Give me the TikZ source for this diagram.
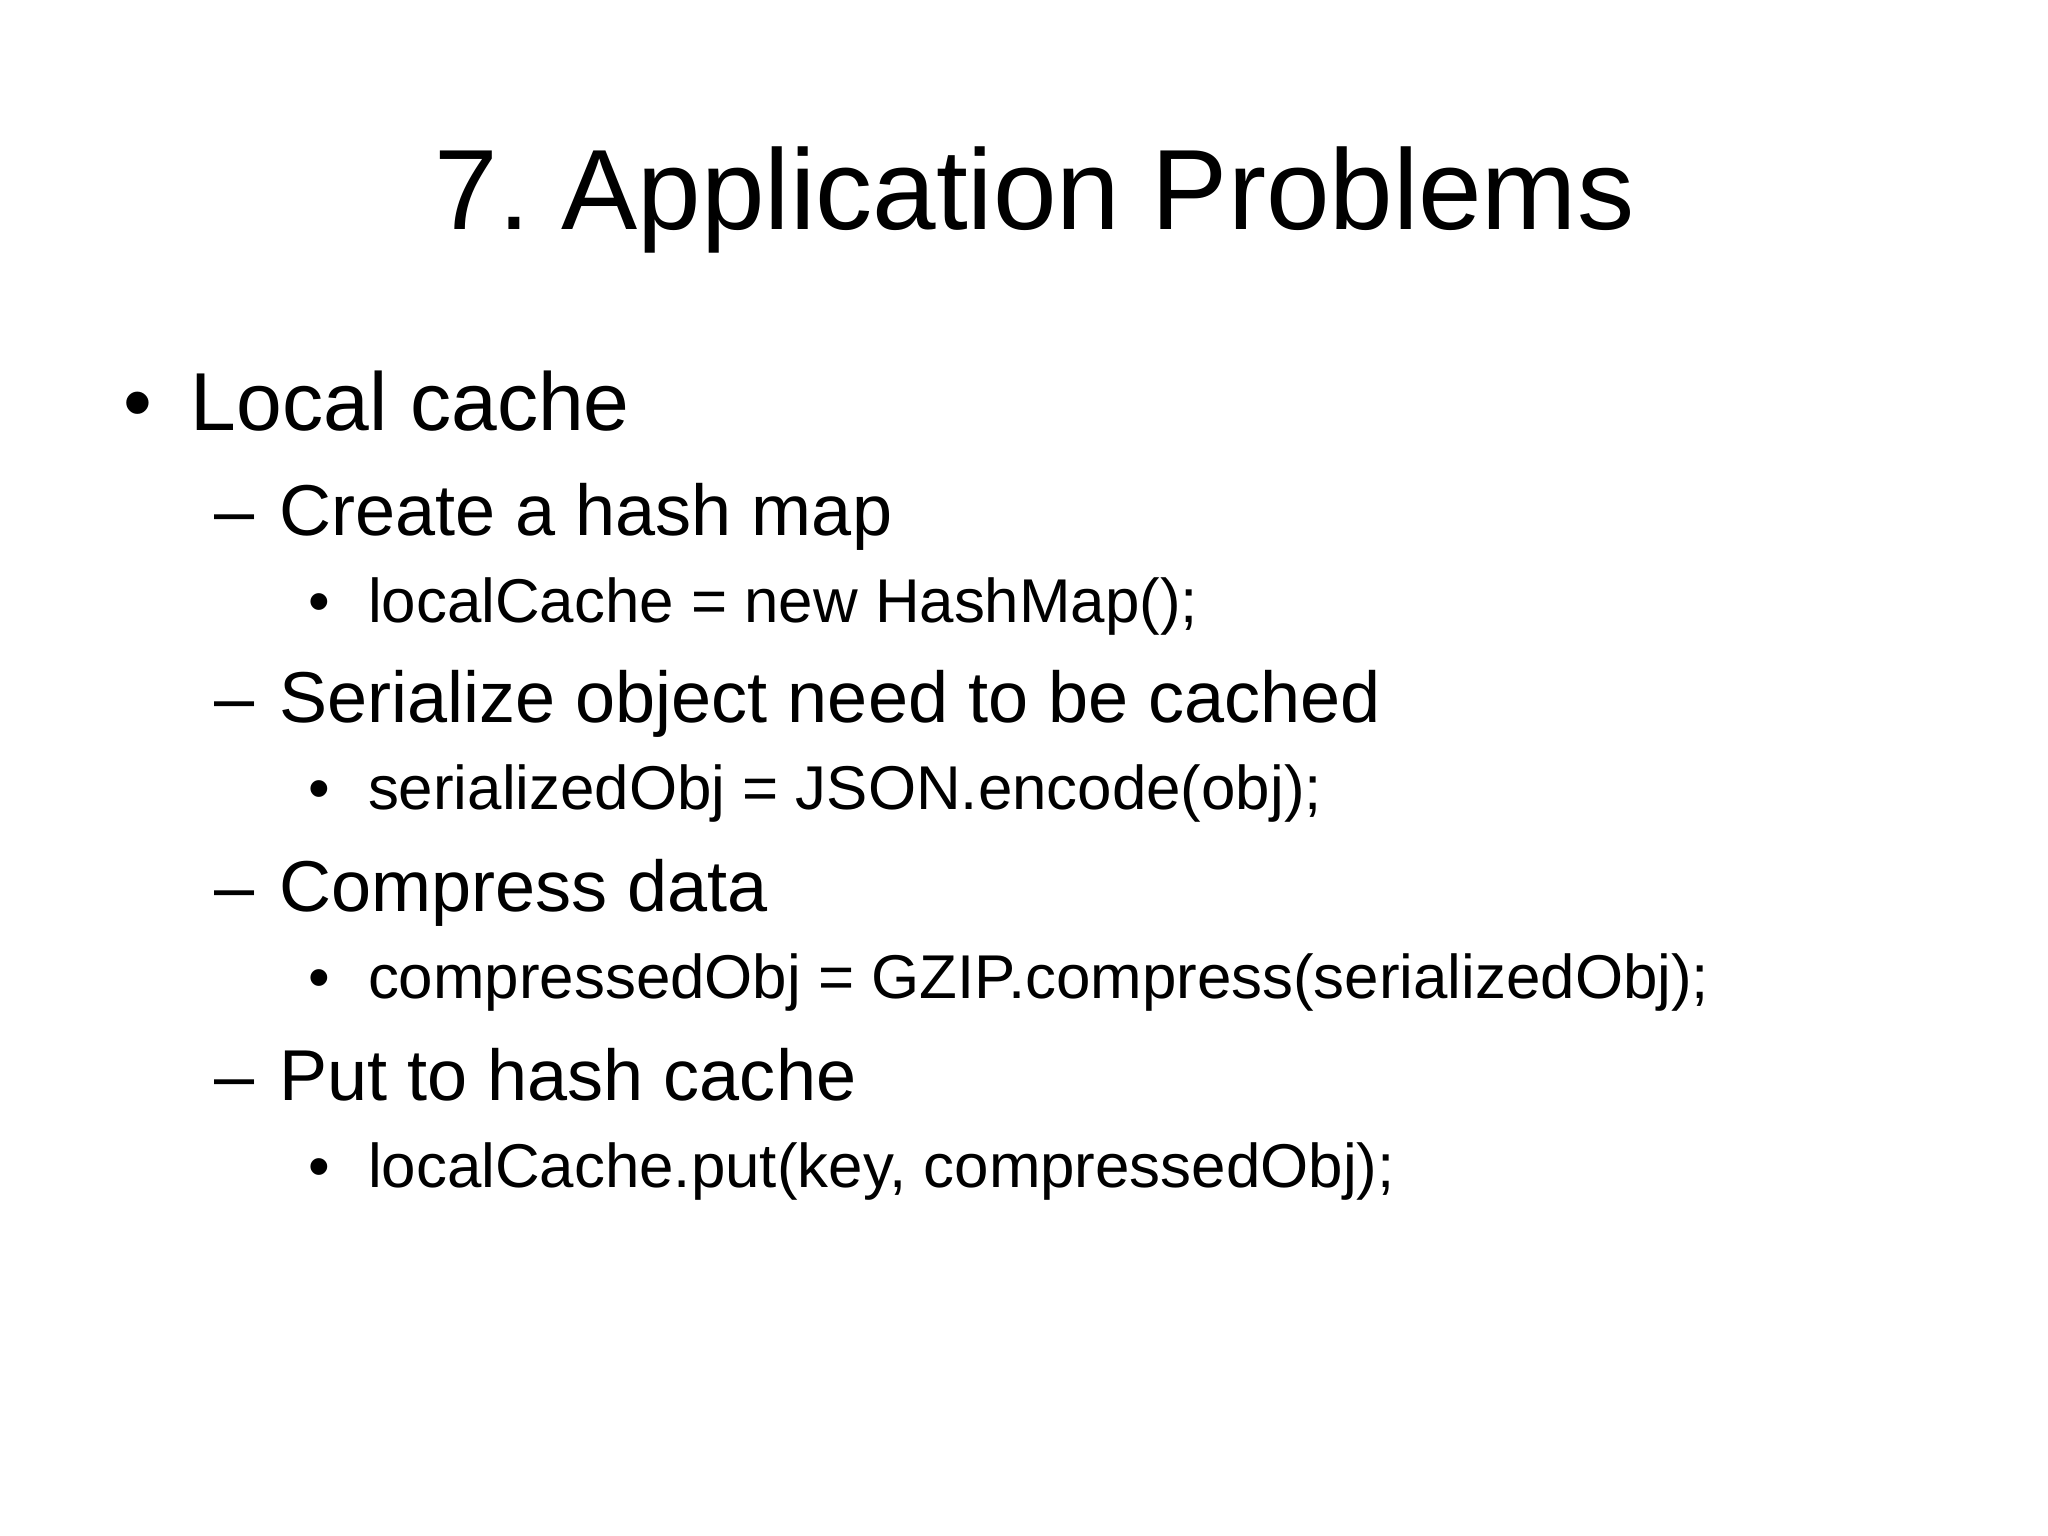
\documentclass[tikz,border=0pt]{standalone}
\usepackage{fontspec}
\setmainfont{Liberation Sans}
\frenchspacing
\begin{document}
\begin{tikzpicture}[x=0.013213cm,y=-0.013213cm,
  title/.style={font=\fontsize{32.5pt}{38pt}\selectfont,anchor=base,inner sep=0},
  lone/.style={font=\fontsize{23.4pt}{27pt}\selectfont,anchor=base west,inner sep=0},
  ltwo/.style={font=\fontsize{20.5pt}{24pt}\selectfont,anchor=base west,inner sep=0},
  lthree/.style={font=\fontsize{17.6pt}{21pt}\selectfont,anchor=base west,inner sep=0}]
\useasboundingbox[fill=white] (0,0) rectangle (1550,1162);
\node[title] (t) at (783,174) {7. Application Problems};
\node[lone] (b1) at (93,326) {•};
\node[lone] (l1) at (144,326) {Local cache};
\foreach \y/\a/\b [count=\i] in {405/Create a hash map/localCache = new HashMap();,
  547/Serialize object need to be cached/serializedObj = JSON.encode(obj);,
  690/Compress data/compressedObj = GZIP.compress(serializedObj);,
  833/Put to hash cache/{localCache.put(key, compressedObj);}}{
  \node[ltwo] (d\i) at (162,\y) {–};
  \node[ltwo] (s\i) at (211,\y) {\a};
  \node[lthree] (bb\i) at (233,\y+66) {•};
  \node[lthree] (c\i) at (278,\y+66) {\b};
}
\end{tikzpicture}
\end{document}
